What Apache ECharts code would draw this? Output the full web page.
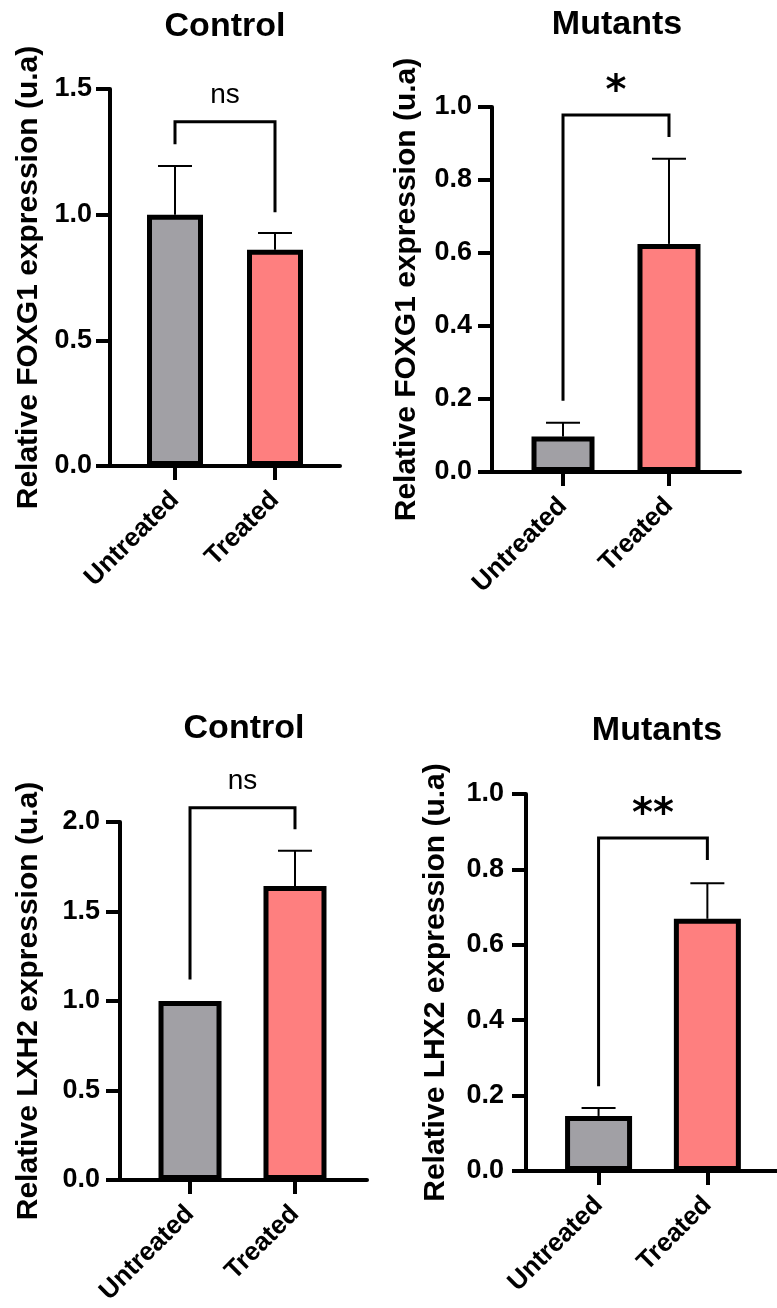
<!DOCTYPE html>
<html>
<head>
<meta charset="utf-8">
<script src="https://cdn.jsdelivr.net/npm/echarts@6/dist/echarts.min.js"></script>
<style>
html,body{margin:0;padding:0;background:#fff;}
#chart{width:777px;height:1308px;}
</style>
</head>
<body>
<div id="chart"></div>
<script>
// ---------- DATA ----------
const categories = ['Untreated', 'Treated'];
const panelTitles = ['Control', 'Mutants', 'Control', 'Mutants'];
const yAxisNames = [
  'Relative FOXG1 expression (u.a)',
  'Relative FOXG1 expression (u.a)',
  'Relative LXH2 expression (u.a)',
  'Relative LHX2 expression (u.a)'
];
const foxg1ControlMean = [1.0, 0.86];
const foxg1ControlErrTop = [1.194, 0.927];
const foxg1MutantMean = [0.097, 0.625];
const foxg1MutantErrTop = [0.135, 0.858];
const lhx2ControlMean = [1.0, 1.642];
const lhx2ControlErrTop = [null, 1.839];
const lhx2MutantMean = [0.146, 0.669];
const lhx2MutantErrTop = [0.167, 0.763];
const yMaxes = [1.5, 1.0, 2.0, 1.0];
const yIntervals = [0.5, 0.2, 0.5, 0.2];
// bracket: [left leg bottom, top, right leg bottom]
const brackets = [
  [1.28, 1.37, 1.01],
  [0.195, 0.978, 0.918],
  [1.12, 2.08, 1.96],
  [0.225, 0.883, 0.825]
];
const sigLabels = ['ns', '*', 'ns', '**'];

const means = [foxg1ControlMean, foxg1MutantMean, lhx2ControlMean, lhx2MutantMean];
const errTops = [foxg1ControlErrTop, foxg1MutantErrTop, lhx2ControlErrTop, lhx2MutantErrTop];

// ---------- LAYOUT ----------
const layout = [
  {left: 110, top: 89, width: 230, height: 377, xmin: 0.35, xmax: 2.65, barW: 56, nameGap: 66, labelMargin: 18, titleX: 220, titleY: 5},
  {left: 492, top: 107, width: 248, height: 365, xmin: 0.33, xmax: 2.67, barW: 63, nameGap: 70, labelMargin: 20, titleX: 612, titleY: 3},
  {left: 120, top: 822, width: 247, height: 358, xmin: 0.333, xmax: 2.686, barW: 63, nameGap: 76, labelMargin: 20, titleX: 239, titleY: 707},
  {left: 526, top: 794, width: 256, height: 377, xmin: 0.333, xmax: 2.64, barW: 67, nameGap: 75, labelMargin: 22, titleX: 652, titleY: 709}
];
const barColors = ['#a1a0a5', '#fe7f7f'];
const FONT = '"Liberation Sans", Arial, sans-serif';

const grids = [], xAxes = [], yAxes = [], series = [], titles = [];
layout.forEach((L, i) => {
  grids.push({left: L.left, top: L.top, width: L.width, height: L.height, containLabel: false});
  titles.push({
    text: panelTitles[i], left: L.titleX, top: L.titleY, textAlign: 'center',
    textStyle: {fontFamily: FONT, fontSize: 34, fontWeight: 'bold', color: '#000'}
  });
  xAxes.push({
    gridIndex: i, type: 'value', min: L.xmin, max: L.xmax,
    splitLine: {show: false},
    axisLine: {show: true, onZero: false, lineStyle: {color: '#000', width: 4}},
    axisTick: {show: true, customValues: [1, 2], length: 14, lineStyle: {color: '#000', width: 4}},
    axisLabel: {
      show: true, customValues: [1, 2], rotate: 45, margin: 30,
      formatter: v => categories[Math.round(v) - 1] || '',
      fontFamily: FONT, fontSize: 26, fontWeight: 'bold', color: '#000'
    }
  });
  yAxes.push({
    gridIndex: i, type: 'value', min: 0, max: yMaxes[i], interval: yIntervals[i],
    name: yAxisNames[i], nameLocation: 'middle', nameGap: L.nameGap,
    nameTextStyle: {fontFamily: FONT, fontSize: 30, fontWeight: 'bold', color: '#000'},
    splitLine: {show: false},
    axisLine: {show: true, lineStyle: {color: '#000', width: 4}},
    axisTick: {show: true, length: 14, lineStyle: {color: '#000', width: 4}},
    axisLabel: {
      margin: L.labelMargin, formatter: v => v.toFixed(1),
      fontFamily: FONT, fontSize: 27, fontWeight: 'bold', color: '#000'
    }
  });
  series.push({
    type: 'bar', xAxisIndex: i, yAxisIndex: i, barWidth: L.barW,
    data: means[i].map((m, k) => ({
      value: [k + 1, m],
      itemStyle: {color: barColors[k], borderColor: '#000', borderWidth: 5}
    })),
    z: 2
  });
  series.push({
    type: 'custom', xAxisIndex: i, yAxisIndex: i, z: 3,
    data: errTops[i].map((e, k) => [k + 1, means[i][k], e]).filter(d => d[2] != null),
    renderItem: (params, api) => {
      const x = api.value(0), m = api.value(1), e = api.value(2);
      const p0 = api.coord([x, m]), p1 = api.coord([x, e]);
      return {type: 'group', children: [
        {type: 'line', shape: {x1: p0[0], y1: p0[1], x2: p1[0], y2: p1[1]}, style: {stroke: '#000', lineWidth: 2}},
        {type: 'line', shape: {x1: p1[0] - 17, y1: p1[1], x2: p1[0] + 17, y2: p1[1]}, style: {stroke: '#000', lineWidth: 2}}
      ]};
    }
  });
  const b = brackets[i];
  series.push({
    type: 'custom', xAxisIndex: i, yAxisIndex: i, z: 3, clip: false,
    data: [[1, b[0], 2, b[2], b[1]]],
    renderItem: (params, api) => {
      const pl = api.coord([api.value(0), api.value(1)]);
      const plt = api.coord([api.value(0), api.value(4)]);
      const prt = api.coord([api.value(2), api.value(4)]);
      const pr = api.coord([api.value(2), api.value(3)]);
      const isStar = sigLabels[i].indexOf('*') >= 0;
      return {type: 'group', children: [
        {type: 'polyline', shape: {points: [pl, plt, prt, pr]}, style: {stroke: '#000', lineWidth: 3, fill: null}},
        {type: 'text', x: (plt[0] + prt[0]) / 2, y: plt[1] - (isStar ? 2 : 12),
          style: {text: sigLabels[i], align: 'center', verticalAlign: 'bottom',
            font: isStar ? 'bold 40px "DejaVu Sans"' : '28px "Liberation Sans", Arial, sans-serif', fill: '#000'}}
      ]};
    }
  });
});

const chart = echarts.init(document.getElementById('chart'), null, {renderer: 'canvas'});
chart.setOption({
  backgroundColor: '#fff',
  animation: false,
  title: titles,
  grid: grids,
  xAxis: xAxes,
  yAxis: yAxes,
  series: series
});
</script>
</body>
</html>
